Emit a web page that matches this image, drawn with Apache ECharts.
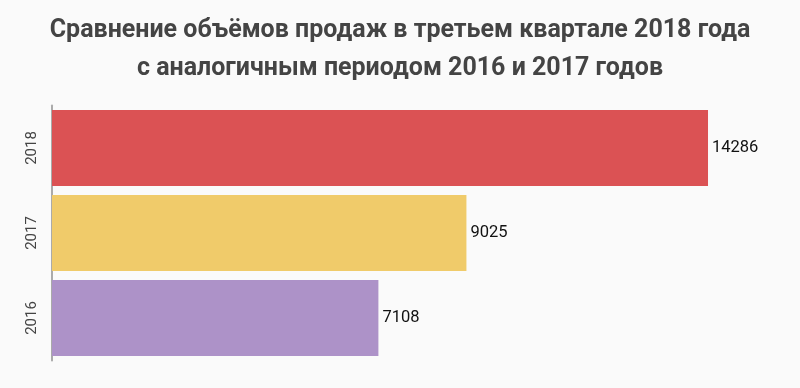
<!DOCTYPE html>
<html><head><meta charset="utf-8">
<script src="https://cdn.jsdelivr.net/npm/echarts@6/dist/echarts.min.js"></script>
<style>html,body{margin:0;padding:0;background:#fafafa}#c{width:800px;height:388px}</style>
</head><body><div id="c"></div>
<script>
const categories = ['2016', '2017', '2018'];
const values = [7108, 9025, 14286];
const colors = ['#AD92C8', '#F0CB6A', '#DB5254'];
const titleText = 'Сравнение объёмов продаж в третьем квартале 2018 года\nс аналогичным периодом 2016 и 2017 годов';

const chart = echarts.init(document.getElementById('c'));
chart.setOption({
  backgroundColor: '#fafafa',
  animation: false,
  title: {
    text: titleText,
    left: 'center',
    top: 6,
    textStyle: { fontFamily: 'Roboto', fontWeight: 'bold', fontSize: 25, color: '#444', lineHeight: 38.5 }
  },
  grid: { left: 52, right: 59.2, top: 105.5, height: 255 },
  xAxis: { type: 'value', min: 0, max: 15000, show: false },
  yAxis: {
    type: 'category', data: categories,
    axisLine: { show: true, lineStyle: { color: '#aaa', width: 2 } },
    axisTick: { show: false },
    axisLabel: { rotate: 90, color: '#444', fontFamily: 'Roboto', fontSize: 15, margin: 12 },
    splitLine: { show: false }
  },
  series: [{
    type: 'bar',
    data: values.map((v, i) => ({ value: v, itemStyle: { color: colors[i] } })),
    barCategoryGap: '10.6%',
    label: { show: true, position: 'right', distance: 4, color: '#111', fontFamily: 'Roboto', fontSize: 16.5 }
  }]
});
</script></body></html>
